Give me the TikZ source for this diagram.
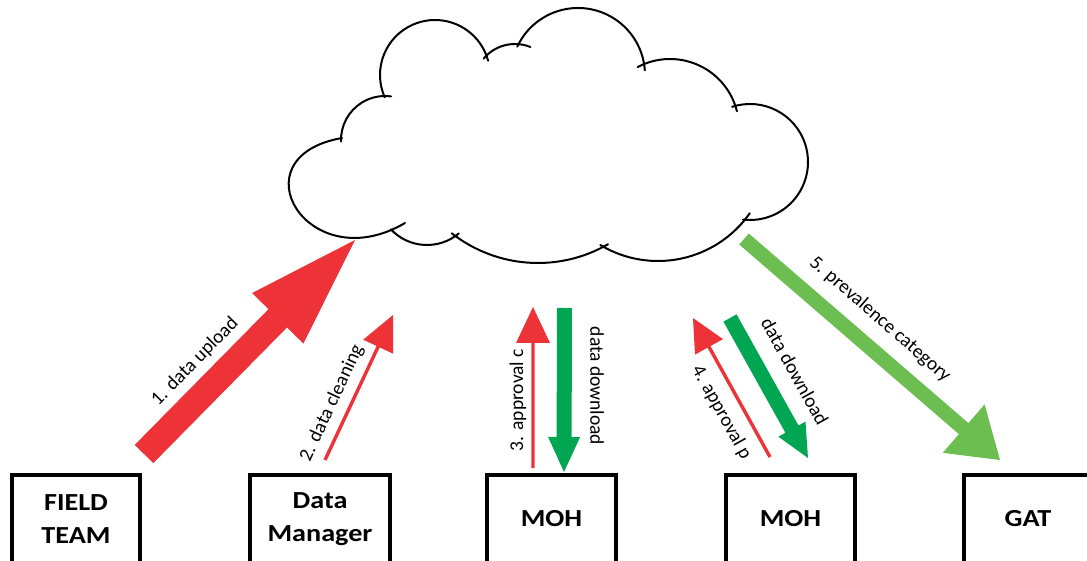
\documentclass[tikz,border=0pt]{standalone}
\usepackage{fontspec}
\setmainfont{Carlito}
\newfontfamily\boxfont{Carlito}[FakeStretch=1.15]
\usetikzlibrary{calc}
\definecolor{myred}{RGB}{237,50,56}
\definecolor{dgreen}{RGB}{0,166,81}
\definecolor{lgreen}{RGB}{108,190,80}
% block arrow: #1 start, #2 tip, #3 half shaft, #4 half head, #5 head length, #6 colour
\newcommand{\blockarrow}[6]{%
  \coordinate (hb) at ($(#2)!#5!(#1)$);
  \fill[#6] ($(#1)!#3!-90:(#2)$) -- ($(hb)!#3!90:(#1)$) -- ($(hb)!#4!90:(#1)$) -- (#2)
     -- ($(hb)!#4!-90:(#1)$) -- ($(hb)!#3!-90:(#1)$) -- ($(#1)!#3!90:(#2)$) -- cycle;
}
\begin{document}
\begin{tikzpicture}[x=1pt,y=1pt,
  box/.style={draw, line width=4pt, minimum height=88pt, inner sep=0pt, align=center,
    font=\boxfont\bfseries\fontsize{24.5}{33}\selectfont},
  lbl/.style={font=\fontsize{19.5}{22}\selectfont, inner sep=0pt},
  cloudline/.style={line width=2pt, line cap=round}]
\useasboundingbox (0,0) rectangle (1087,560);
\clip (0,0) rectangle (1087,560);
% cloud
\draw[cloudline] (385,420) ++(182:44) arc[start angle=182,end angle=82,radius=44];
\draw[cloudline] (435,485) ++(204:55) arc[start angle=204,end angle=15,radius=55];
\draw[cloudline] (515,475) ++(140:41) arc[start angle=140,end angle=68,radius=41];
\draw[cloudline] (578,485) ++(155:67) arc[start angle=155,end angle=4,radius=67];
\draw[cloudline] (670,432) ++(118:69) arc[start angle=118,end angle=14,radius=69];
\draw[cloudline] (750,398) ++(108:58) arc[start angle=108,end angle=-97,radius=58];
\draw[cloudline] (658,411) ++(-35:112) arc[start angle=-35,end angle=-121,radius=112];
\draw[cloudline] (538,437) ++(-60:140) arc[start angle=-60,end angle=-128,radius=140];
\draw[cloudline] (427,364.5) ++(-50:49.5) arc[start angle=-50,end angle=-137,radius=49.5];
\draw[cloudline] (405,337) .. controls (308,280) and (234,403) .. (342,422);
% boxes
\node[box, minimum width=128pt] (field) at (76,41) {FIELD\\TEAM};
\node[box, minimum width=140pt] (dm) at (320,41) {Data\\Manager};
\node[box, minimum width=129pt] (moh1) at (551.5,41) {MOH};
\node[box, minimum width=129pt] (moh2) at (790.5,41) {MOH};
\node[box, minimum width=129pt] (gat) at (1028,41) {GAT};
% arrow ends
\coordinate (a1s) at (144,106);   \coordinate (a1e) at (355,320);
\coordinate (a2s) at (325,100);   \coordinate (a2e) at (393,245);
\coordinate (a3s) at (533,92);    \coordinate (a3e) at (533,253);
\coordinate (g1s) at (564.5,252); \coordinate (g1e) at (564,88);
\coordinate (a4s) at (770,103);   \coordinate (a4e) at (693,242);
\coordinate (g2s) at (730,242);   \coordinate (g2e) at (808,102);
\coordinate (g3s) at (744,321);   \coordinate (g3e) at (1000,100);
% arrows
\blockarrow{a1s}{a1e}{13pt}{36pt}{110pt}{myred}
\blockarrow{a2s}{a2e}{1.7pt}{16.5pt}{35pt}{myred}
\blockarrow{a3s}{a3e}{1.7pt}{17pt}{36pt}{myred}
\blockarrow{g1s}{g1e}{7.5pt}{16pt}{35pt}{dgreen}
\blockarrow{a4s}{a4e}{1.7pt}{16pt}{33pt}{myred}
\blockarrow{g2s}{g2e}{7.5pt}{15.5pt}{33pt}{dgreen}
\blockarrow{g3s}{g3e}{7.3pt}{32pt}{48pt}{lgreen}
% labels
\node[lbl, rotate=45.4] (l1) at (195,198.5) {1. data upload};
\node[lbl, rotate=65] (l2) at (332,157) {2. data cleaning};
\node[lbl, rotate=90] (l3) at (518,160) {3. approval c};
\node[lbl, rotate=-90] (l3b) at (597,174) {data download};
\node[lbl, rotate=-61] (l4) at (721.5,147.5) {4. approval p};
\node[lbl, rotate=-61] (l4b) at (795,188.5) {data download};
\node[lbl, rotate=-41] (l5) at (880,240.5) {5. prevalence category};
\end{tikzpicture}
\end{document}
